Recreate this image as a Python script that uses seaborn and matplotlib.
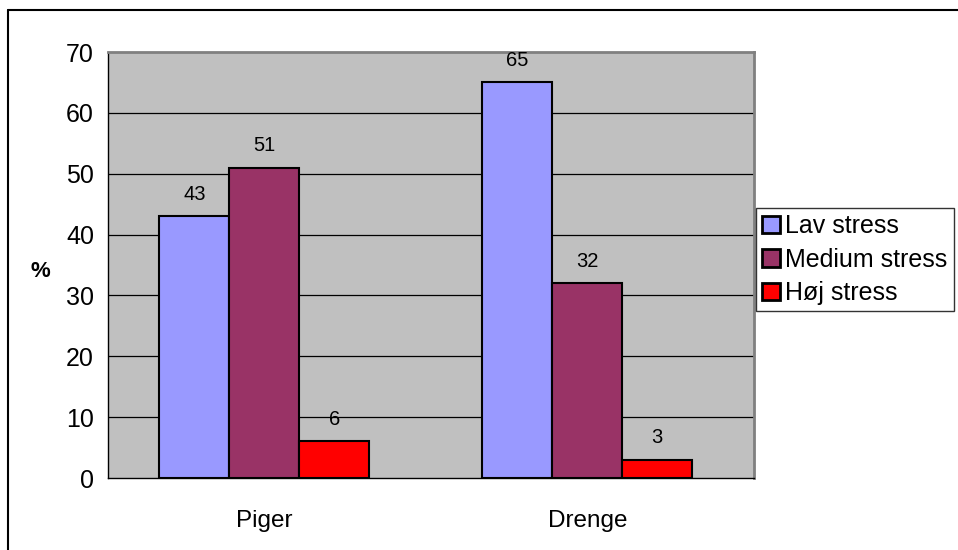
import pandas as pd
import seaborn as sns
import matplotlib.pyplot as plt
from matplotlib.lines import Line2D

groups = ["Piger", "Drenge"]
levels = ["Lav stress", "Medium stress", "Høj stress"]
lav = [43, 65]
medium = [51, 32]
hoj = [6, 3]
colors = ["#9999FF", "#993366", "#FF0000"]

df = pd.DataFrame({
    "gruppe": groups * 3,
    "stress": [levels[0]] * 2 + [levels[1]] * 2 + [levels[2]] * 2,
    "pct": lav + medium + hoj,
})

sns.set_style("white")
plt.rcParams["font.family"] = ["Liberation Sans", "DejaVu Sans"]
plt.rcParams["text.color"] = "black"
plt.rcParams["xtick.color"] = "black"
plt.rcParams["ytick.color"] = "black"
plt.rcParams["axes.labelcolor"] = "black"

fig = plt.figure(figsize=(9.58, 5.50), dpi=100)
ax = fig.add_axes([108 / 958, 1 - 478 / 550, (754 - 108) / 958, (478 - 52) / 550])

sns.barplot(data=df, x="gruppe", y="pct", hue="stress", hue_order=levels,
            palette=colors, width=0.65, edgecolor="black", linewidth=1.5,
            saturation=1, legend=True, ax=ax)

xmin = -0.484
ax.set_facecolor("#C0C0C0")
ax.set_ylim(0, 70)
ax.set_xlim(xmin, xmin + 2)
ax.set_yticks(range(0, 71, 10))
for y in range(10, 70, 10):
    ax.axhline(y, color="black", linewidth=0.9, zorder=0)

# data labels
for cont in ax.containers:
    ax.bar_label(cont, padding=9, fontsize=14.5)

ax.set_xlabel("")
ax.set_ylabel("%", fontsize=16, fontweight="bold", rotation=0)
ax.yaxis.set_label_coords(-0.104, 0.46)

# x ticks at category boundaries, labels centred below
ax.set_xticks([xmin, xmin + 1, xmin + 2])
ax.set_xticklabels([])
ax.set_xticks([0, 1], minor=True)
ax.set_xticklabels(groups, minor=True, fontsize=17.5)
ax.tick_params(axis="x", which="major", direction="out", length=9, width=1, color="black")
ax.tick_params(axis="x", which="minor", length=0, pad=23)
ax.tick_params(axis="y", direction="out", length=6, width=1, color="black", labelsize=18, pad=4)

for side in ["left", "bottom"]:
    ax.spines[side].set_color("black")
    ax.spines[side].set_linewidth(1)
for side in ["top", "right"]:
    ax.spines[side].set_color("#808080")
    ax.spines[side].set_linewidth(2)

ax.legend(loc="upper left", bbox_to_anchor=(1.003, 0.634), frameon=True,
          fancybox=False, edgecolor="black", fontsize=18, handlelength=0.72,
          handleheight=0.72, handletextpad=0.2, borderpad=0.25, labelspacing=0.38,
          borderaxespad=0)
for h in ax.get_legend().legend_handles:
    h.set_edgecolor("black")
    h.set_linewidth(2)

# outer chart border (top and left visible)
fig.add_artist(Line2D([8 / 958, 1], [1 - 10 / 550] * 2, color="black", linewidth=1.5))
fig.add_artist(Line2D([8 / 958] * 2, [0, 1 - 10 / 550], color="black", linewidth=1.5))

fig.savefig("out.png", dpi=100)
